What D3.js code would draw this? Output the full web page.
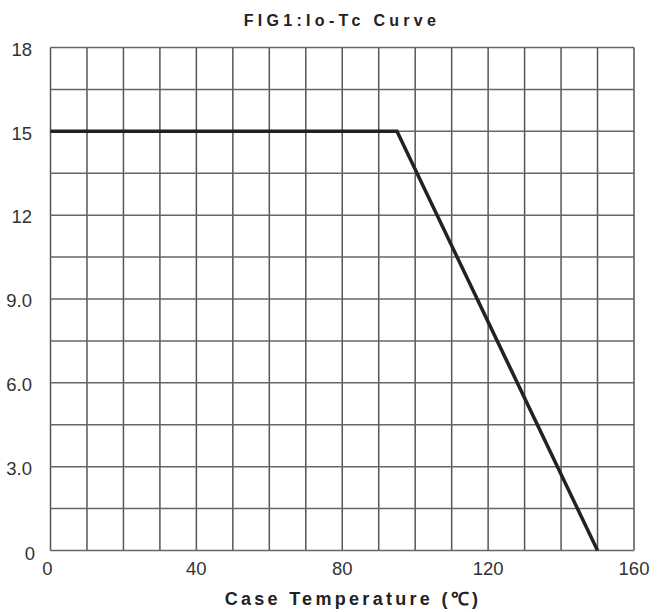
<!DOCTYPE html>
<html><head><meta charset="utf-8">
<script src="https://cdn.jsdelivr.net/npm/d3@7"></script>
<style>body{margin:0;background:#fff}</style>
</head><body>
<script>
const curveX = [0, 95, 150];
const curveY = [15, 15, 0];
const xTicks = [0, 40, 80, 120, 160];
const xTickLabels = ["0", "40", "80", "120", "160"];
const yTicks = [0, 3, 6, 9, 12, 15, 18];
const yTickLabels = ["0", "3.0", "6.0", "9.0", "12", "15", "18"];
const xGrid = d3.range(0, 161, 10);
const yGrid = d3.range(0, 18.01, 1.5);

const W = 657, H = 612;
const m = {left: 50.5, right: 657 - 634, top: 47.5, bottom: 612 - 550.5};
const svg = d3.select("body").append("svg").attr("width", W).attr("height", H);
const x = d3.scaleLinear().domain([0, 160]).range([m.left, W - m.right]);
const y = d3.scaleLinear().domain([0, 18]).range([H - m.bottom, m.top]);

const g = svg.append("g");
g.selectAll(".vg").data(xGrid).enter().append("line")
  .attr("x1", d => x(d)).attr("x2", d => x(d)).attr("y1", y(0)).attr("y2", y(18))
  .attr("stroke", "#555").attr("stroke-width", 1.5);
g.selectAll(".hg").data(yGrid).enter().append("line")
  .attr("y1", d => y(d)).attr("y2", d => y(d)).attr("x1", x(0)).attr("x2", x(160))
  .attr("stroke", "#666").attr("stroke-width", 1.5);

const pts = curveX.map((d, i) => [d, curveY[i]]);
svg.append("path").datum(pts)
  .attr("d", d3.line().x(d => x(d[0])).y(d => y(d[1])))
  .attr("fill", "none").attr("stroke", "#222").attr("stroke-width", 3.5)
  .attr("stroke-linejoin", "miter");

const font = "Liberation Sans, Arial, sans-serif";
svg.selectAll(".yl").data(yTicks).enter().append("text")
  .attr("x", d => d === 0 ? 35 : 32).attr("y", d => d === 0 ? y(d) + 9.5 : y(d) + 8.3)
  .attr("text-anchor", "end").attr("font-family", font).attr("font-size", 18.5)
  .attr("fill", "#333").text((d, i) => yTickLabels[i]);
svg.selectAll(".xl").data(xTicks).enter().append("text")
  .attr("x", d => d === 0 ? x(d) - 3 : x(d)).attr("y", 575)
  .attr("text-anchor", "middle").attr("font-family", font).attr("font-size", 18.5)
  .attr("fill", "#333").text((d, i) => xTickLabels[i]);

svg.append("text").attr("x", 342).attr("y", 26).attr("text-anchor", "middle")
  .attr("font-family", font).attr("font-size", 16).attr("font-weight", "bold")
  .attr("letter-spacing", 4.3).attr("fill", "#222").text("FIG1:Io-Tc Curve");
svg.append("text").attr("x", 353).attr("y", 605).attr("text-anchor", "middle")
  .attr("font-family", font).attr("font-size", 18).attr("font-weight", "bold")
  .attr("letter-spacing", 3.3).attr("fill", "#222").text("Case Temperature (℃)");
</script>
</body></html>
